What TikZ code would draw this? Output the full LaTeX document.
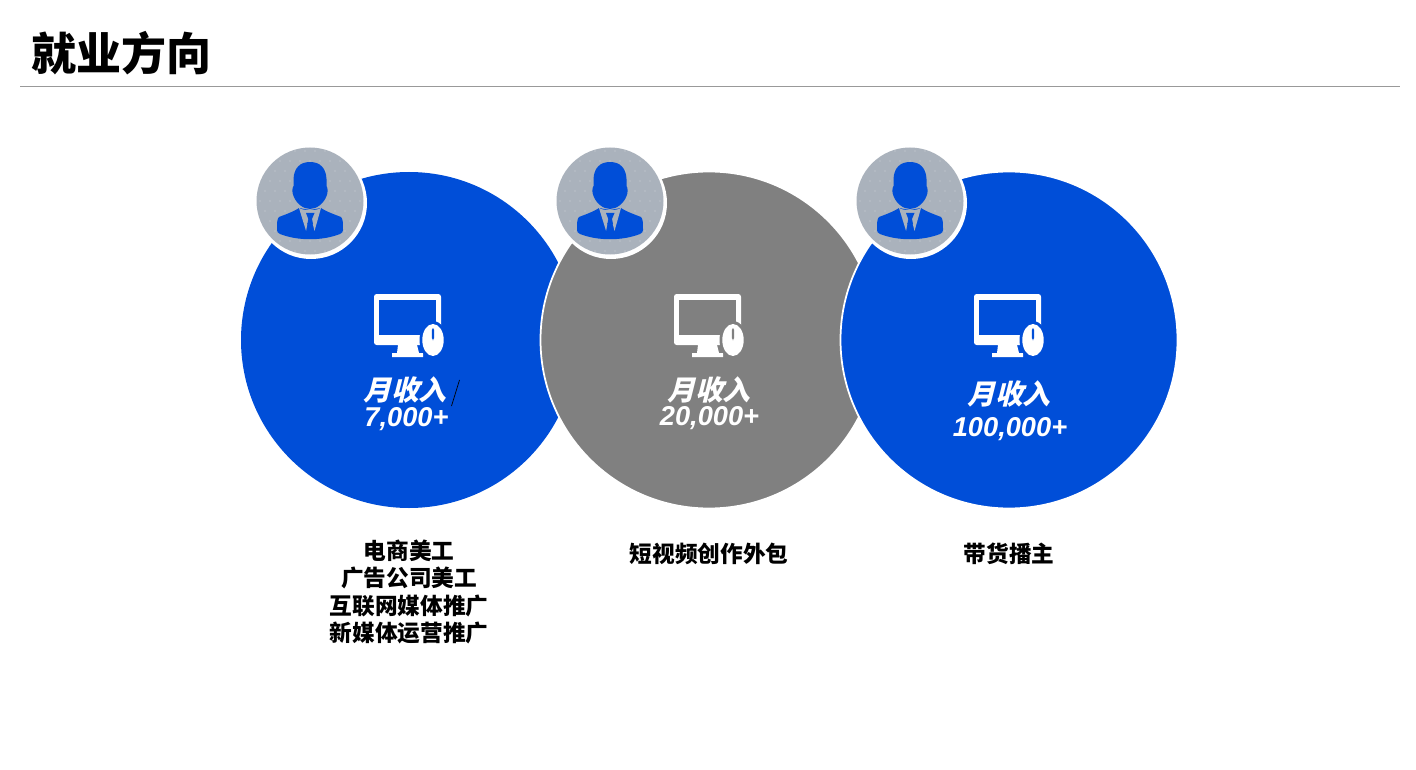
\documentclass[tikz,border=0pt]{standalone}
\usepackage{fontspec}
\setmainfont{Liberation Sans}
\newfontfamily\cjk{Noto Sans CJK SC}
\newfontfamily\cjkslant[FakeSlant=0.25,BoldFeatures={FakeSlant=0.25}]{Noto Sans CJK SC}
\definecolor{discblue}{RGB}{0,78,216}
\definecolor{discgray}{RGB}{128,128,128}
\definecolor{badgegray}{RGB}{170,178,188}
\definecolor{dotgray}{RGB}{205,211,218}
\tikzset{
	x=0.02cm, y=-0.02cm,
	titletext/.style={anchor=west, inner sep=0, font=\cjk\bfseries\fontsize{25.6}{28}\selectfont},
	monthtext/.style={inner sep=0, text=white, font=\cjkslant\bfseries\fontsize{15.8}{17}\selectfont},
	valuetext/.style={inner sep=0, text=white, font=\bfseries\itshape\fontsize{15.5}{17}\selectfont},
	jobtext/.style={inner sep=0, align=center, font=\cjk\bfseries\fontsize{12.9}{15.4}\selectfont},
	monitor/.pic={
		\fill[white, rounded corners=1.5] (-35,-46) rectangle (32,5);
		\path[pic actions] (-29.7,-40.5) rectangle (27,-5);
		\fill[white] (-11,5) -- (8,5) -- (10,13) -- (14,13) -- (14,17) -- (-17,17) -- (-17,13) -- (-12,13) -- cycle;
		\path[pic actions] (24,0) ellipse (13.5 and 19);
		\fill[white] (24,0) ellipse (10.7 and 16);
		\path[pic actions, rounded corners=1] (22.8,-12) rectangle (25.2,0);
	},
	person/.pic={
		\fill[badgegray] (0,0) circle (53.5);
		\clip (0,0) circle (53.5);
		\foreach \row in {-5,...,5} {
			\foreach \col in {-6,...,6} {
				\fill[dotgray] ({\col*10+5*mod(abs(\row),2)},{\row*10}) circle (0.7);
			}
		}
		\fill[discblue] (0,-39) .. controls (10,-39) and (16,-33) .. (16.5,-22)
			.. controls (16.5,-19) and (16.5,-17) .. (16.5,-15)
			.. controls (18,-13) and (18,-8) .. (16.5,-5)
			.. controls (14,2) and (7,8) .. (0,8)
			.. controls (-7,8) and (-14,2) .. (-16.5,-5)
			.. controls (-18,-8) and (-18,-13) .. (-16.5,-15)
			.. controls (-16.5,-17) and (-16.5,-19) .. (-16.5,-22)
			.. controls (-16,-33) and (-10,-39) .. (0,-39) -- cycle;
		\fill[discblue] (-11,7) .. controls (-17,11) and (-26,14) .. (-31,16)
			.. controls (-33,18) and (-33,22) .. (-33,29)
			.. controls (-33,31) and (-32,32) .. (-30,33)
			.. controls (-12,40) and (12,40) .. (30,33)
			.. controls (32,32) and (33,31) .. (33,29)
			.. controls (33,22) and (33,18) .. (31,16)
			.. controls (26,14) and (17,11) .. (11,7)
			-- (0,9) -- cycle;
		\fill[badgegray] (-11,7) .. controls (-6,10) and (6,10) .. (11,7) -- (4.5,30) -- (2.5,22) -- (-2.5,22) -- (-3.9,30) -- cycle;
		\fill[discblue] (-4,12) -- (4.5,12) -- (2,18) -- (3,23) -- (-2.7,23) -- (-1.7,18) -- cycle;
	}
}

\begin{document}
\begin{tikzpicture}
	%%%%% START %%%%%
	\useasboundingbox (0,0) rectangle (1416,770);
	
	\node[titletext] (title) at (31,53) {就业方向};
	\coordinate (ruleleft) at (20,86);
	\coordinate (ruleright) at (1400,86);
	\draw[line width=0.45pt, color=black!40] (ruleleft) -- (ruleright);
	
	% big discs, later ones lie over earlier ones
	\fill[discblue] (409,340) circle (168);
	\draw[fill=discgray, draw=white, line width=1pt] (709,340) circle (168.5);
	\draw[fill=discblue, draw=white, line width=1pt] (1009,340) circle (168.5);
	
	\fill[white] (311,203) circle (56);
	\fill[white] (611,203) circle (56);
	\fill[white] (911,203) circle (56);
	
	\pic at (310,201) {person};
	\pic at (610,201) {person};
	\pic at (910,201) {person};
	
	\pic[fill=discblue] at (409,340) {monitor};
	\pic[fill=discgray] at (709,340) {monitor};
	\pic[fill=discblue] at (1009,340) {monitor};
	
	\node[monthtext] (monthA) at (405,390) {月收入};
	\node[valuetext] (valueA) at (406.5,419) {7,000+};
	\coordinate (slashtop) at (459.5,380);
	\coordinate (slashbottom) at (451.5,406);
	\draw[line width=0.4pt] (slashtop) -- (slashbottom);
	
	\node[monthtext] (monthB) at (709,390) {月收入};
	\node[valuetext] (valueB) at (709.5,418) {20,000+};
	
	\node[monthtext] (monthC) at (1009,394) {月收入};
	\node[valuetext] (valueC) at (1010,429.5) {100,000+};
	
	\node[jobtext, anchor=north] (jobA) at (409,540) {电商美工\\广告公司美工\\互联网媒体推广\\新媒体运营推广};
	\node[jobtext] (jobB) at (709,554) {短视频创作外包};
	\node[jobtext] (jobC) at (1009,554) {带货播主};
	
	%%%%% END %%%%%
\end{tikzpicture}
\end{document}
